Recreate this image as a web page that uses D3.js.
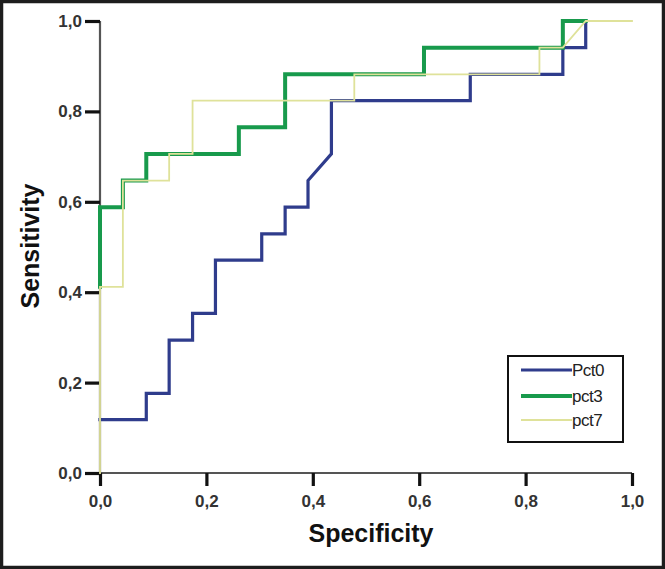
<!DOCTYPE html>
<html>
<head>
<meta charset="utf-8">
<script src="https://cdn.jsdelivr.net/npm/d3@7/dist/d3.min.js"></script>
<style>
  html, body { margin: 0; padding: 0; background: #fff; }
  svg { display: block; }
</style>
</head>
<body>
<svg id="chart" width="665" height="569"></svg>
<script>
// ---- Data ----
const tickValues = [0, 0.2, 0.4, 0.6, 0.8, 1.0];
const tickLabels = ["0,0", "0,2", "0,4", "0,6", "0,8", "1,0"];

const seriesNames = ["Pct0", "pct3", "pct7"];

// Pct0: x = 1 - specificity positions, y = sensitivity
const pct0X = [0, 0.087, 0.087, 0.130, 0.130, 0.174, 0.174, 0.217, 0.217, 0.304, 0.304, 0.348, 0.348, 0.391, 0.391, 0.435, 0.435, 0.696, 0.696, 0.870, 0.870, 0.913, 0.913];
const pct0Y = [0.118, 0.118, 0.176, 0.176, 0.294, 0.294, 0.353, 0.353, 0.471, 0.471, 0.529, 0.529, 0.588, 0.588, 0.647, 0.706, 0.824, 0.824, 0.882, 0.882, 0.941, 0.941, 1.0];

const pct3X = [0, 0, 0.043, 0.043, 0.087, 0.087, 0.261, 0.261, 0.348, 0.348, 0.609, 0.609, 0.870, 0.870, 0.913];
const pct3Y = [0.412, 0.588, 0.588, 0.647, 0.647, 0.706, 0.706, 0.765, 0.765, 0.882, 0.882, 0.941, 0.941, 1.0, 1.0];

const pct7X = [0, 0, 0.043, 0.043, 0.130, 0.130, 0.174, 0.174, 0.478, 0.478, 0.826, 0.826, 0.870, 0.913, 1.0];
const pct7Y = [0, 0.412, 0.412, 0.647, 0.647, 0.706, 0.706, 0.824, 0.824, 0.882, 0.882, 0.941, 0.941, 1.0, 1.0];

const seriesColors = ["#2f3c8c", "#189a4c", "#dfe29a"];
const seriesWidths = [3.2, 4, 1.8];

// ---- Layout ----
const W = 665, H = 569;
const mLeft = 100, mRight = 632, mTop = 21, mBottom = 473;

const svg = d3.select("#chart");

const x = d3.scaleLinear().domain([0, 1]).range([mLeft, mRight]);
const y = d3.scaleLinear().domain([0, 1]).range([mBottom, mTop]);

// Frame around the whole picture
svg.append("rect")
  .attr("x", 1.5).attr("y", 1.5)
  .attr("width", W - 3).attr("height", H - 3)
  .attr("fill", "#fff")
  .attr("stroke", "#1d1d1d").attr("stroke-width", 3.5);

// Axes
const labelFor = v => tickLabels[tickValues.indexOf(v)];

const xAxis = d3.axisBottom(x).tickValues(tickValues).tickFormat(labelFor).tickSize(13).tickPadding(9);
const yAxis = d3.axisLeft(y).tickValues(tickValues).tickFormat(labelFor).tickSize(15).tickPadding(3);

const gx = svg.append("g").attr("transform", `translate(0,${mBottom})`).call(xAxis);
const gy = svg.append("g").attr("transform", `translate(${mLeft},0)`).call(yAxis);

[gx, gy].forEach(g => {
  g.select(".domain").attr("stroke", "#555").attr("stroke-width", 2.2);
  g.selectAll(".tick line").attr("stroke", "#111").attr("stroke-width", 3.2);
  g.selectAll(".tick text")
    .attr("fill", "#333")
    .style("font-family", "'Liberation Sans', Arial, sans-serif")
    .style("font-weight", "bold")
    .style("font-size", "17px");
});
gx.select(".domain").attr("d", `M${mLeft},0H${mRight}`);
gy.select(".domain").attr("d", `M0,${mTop}V${mBottom}`);

// Series lines
const lineGen = d3.line().x(d => x(d[0])).y(d => y(d[1]));
const seriesData = [
  d3.zip(pct0X, pct0Y),
  d3.zip(pct3X, pct3Y),
  d3.zip(pct7X, pct7Y)
];

seriesData.forEach((pts, i) => {
  svg.append("path")
    .datum(pts)
    .attr("d", lineGen)
    .attr("fill", "none")
    .attr("stroke", seriesColors[i])
    .attr("stroke-width", seriesWidths[i])
    .attr("stroke-linejoin", "miter")
    .attr("stroke-linecap", "square");
});

// Axis titles
svg.append("text")
  .attr("x", 371).attr("y", 542)
  .attr("text-anchor", "middle")
  .attr("fill", "#111")
  .style("font-family", "'Liberation Sans', Arial, sans-serif")
  .style("font-weight", "bold")
  .style("font-size", "25px")
  .text("Specificity");

svg.append("text")
  .attr("transform", "translate(39,246) rotate(-90)")
  .attr("text-anchor", "middle")
  .attr("fill", "#111")
  .style("font-family", "'Liberation Sans', Arial, sans-serif")
  .style("font-weight", "bold")
  .style("font-size", "25px")
  .text("Sensitivity");

// Legend
const legend = svg.append("g");
legend.append("rect")
  .attr("x", 508).attr("y", 356)
  .attr("width", 115).attr("height", 86)
  .attr("fill", "#fff")
  .attr("stroke", "#111").attr("stroke-width", 2);

const legendRowY = [370, 396, 420];
seriesNames.forEach((name, i) => {
  legend.append("line")
    .attr("x1", 521).attr("x2", 572)
    .attr("y1", legendRowY[i]).attr("y2", legendRowY[i])
    .attr("stroke", seriesColors[i])
    .attr("stroke-width", seriesWidths[i]);
  legend.append("text")
    .attr("x", 572).attr("y", legendRowY[i] + 6)
    .attr("fill", "#222")
    .style("font-family", "'Liberation Sans', Arial, sans-serif")
    .style("font-size", "17px")
    .style("letter-spacing", "-0.5px")
    .text(name);
});
</script>
</body>
</html>
